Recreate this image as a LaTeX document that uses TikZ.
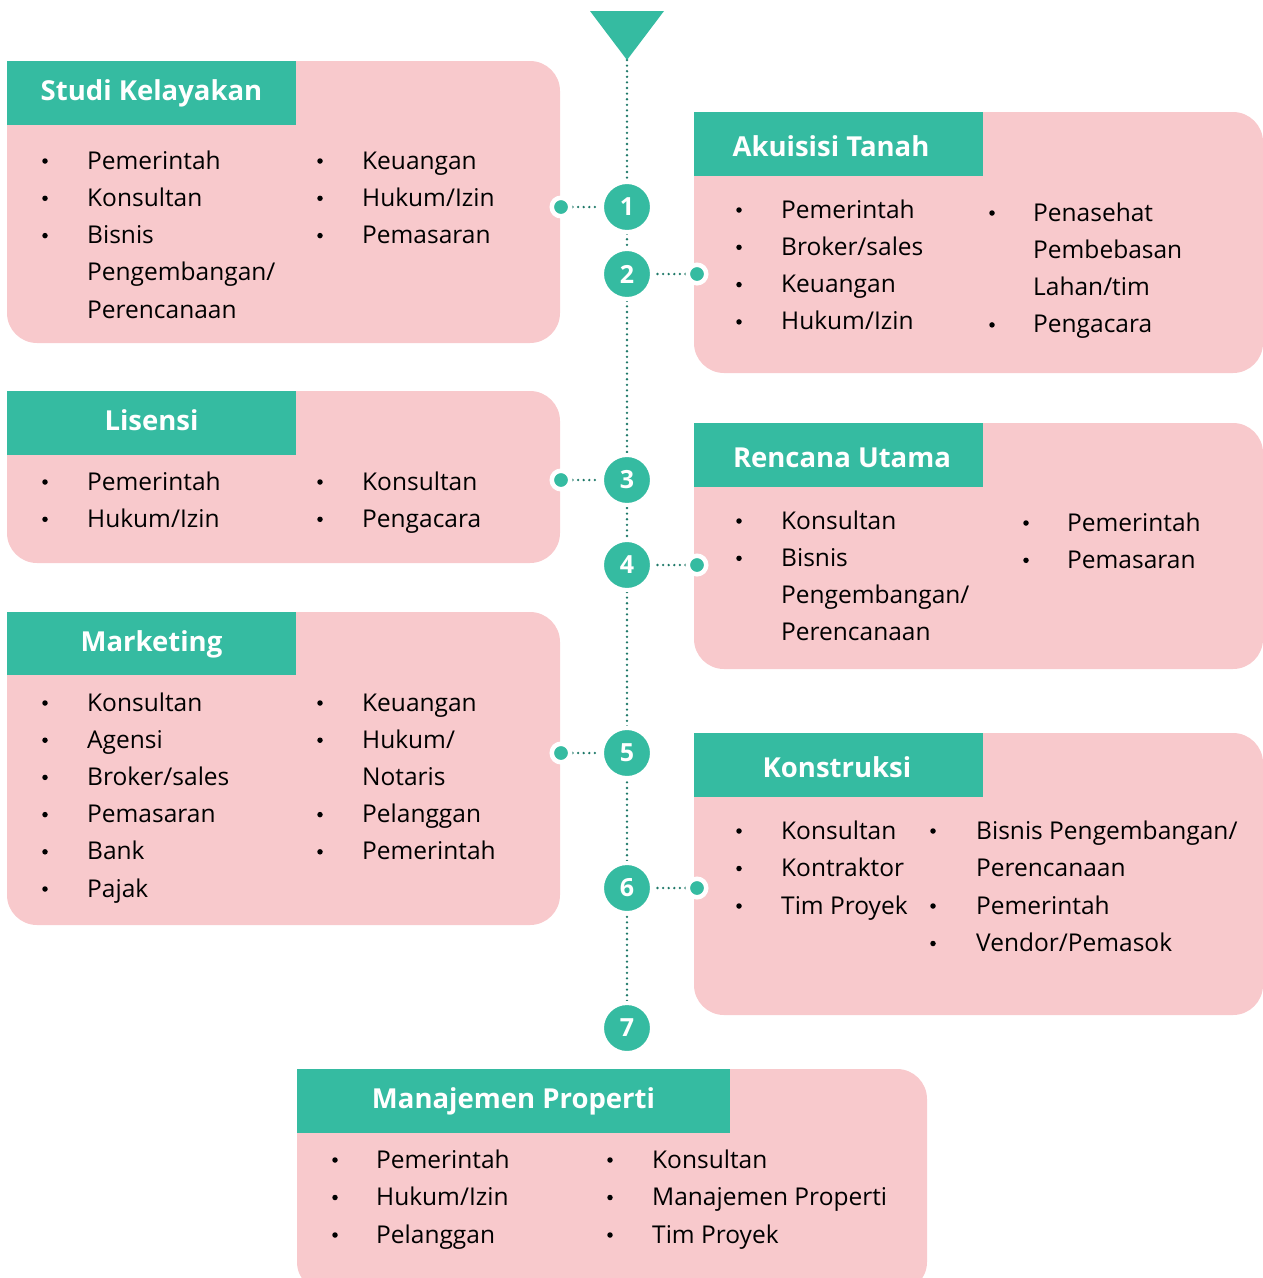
\documentclass[tikz,border=0pt]{standalone}
\usepackage{fontspec}
\setmainfont{Open Sans}
\usetikzlibrary{backgrounds}
\definecolor{tosca}{RGB}{53,187,161}
\definecolor{blush}{RGB}{248,201,204}
\definecolor{dotgreen}{RGB}{30,120,104}

\begin{document}
\begin{tikzpicture}[x=1pt,y=-1pt,
    box/.style={fill=blush, rounded corners=30pt},
    head/.style={fill=tosca},
    title/.style={anchor=base, text=white, inner sep=0pt, font=\fontsize{27.5}{33}\selectfont\bfseries},
    item/.style={anchor=base west, inner sep=0pt, font=\fontsize{24.5}{29}\selectfont},
    bul/.style={circle, fill=black, minimum size=5.5pt, inner sep=0pt},
    num/.style={circle, fill=tosca, draw=white, line width=4pt, minimum size=50pt, inner sep=0pt,
      text=white, font=\fontsize{25}{30}\selectfont\bfseries},
    knob/.style={circle, fill=tosca, draw=white, line width=4.5pt, minimum size=18.5pt, inner sep=0pt},
    dotline/.style={dotgreen, line width=2.6pt, line cap=round, dash pattern=on 0pt off 5.6pt}]
  \useasboundingbox (0,0) rectangle (1263,1278);

  % Studi Kelayakan
  \fill [box] (7,61) rectangle (560,343); % Draws a rectangle
  \fill [head] (7,61) rectangle (296,125);
  \node [title] (sk) at (151.5,100) {Studi Kelayakan};
  \foreach \t [count=\i from 0] in {Pemerintah, Konsultan, Bisnis, Pengembangan/, Perencanaan}
    \node [item] (sk-a\i) at (87,{169+37.3*\i}) {\t};
  \foreach \i in {0,1,2} \node [bul] (sk-p\i) at (45,{161+37.3*\i}) {};
  \foreach \t [count=\i from 0] in {Keuangan, Hukum/Izin, Pemasaran}
    \node [item] (sk-b\i) at (362,{169+37.3*\i}) {\t};
  \foreach \i in {0,1,2} \node [bul] (sk-q\i) at (320,{161+37.3*\i}) {};

  % Akuisisi Tanah
  \fill [box] (694,112) rectangle (1263,373); % Draws a rectangle
  \fill [head] (694,112) rectangle (983,176);
  \node [title] (at) at (831,156) {Akuisisi Tanah};
  \foreach \t [count=\i from 0] in {Pemerintah, Broker/sales, Keuangan, Hukum/Izin}
    \node [item] (at-a\i) at (781,{218+37.3*\i}) {\t};
  \foreach \i in {0,1,2,3} \node [bul] (at-p\i) at (739,{210+37.3*\i}) {};
  \foreach \t [count=\i from 0] in {Penasehat, Pembebasan, Lahan/tim, Pengacara}
    \node [item] (at-b\i) at (1033,{221+37.3*\i}) {\t};
  \foreach \i in {0,3} \node [bul] (at-q\i) at (992,{213+37.3*\i}) {};

  % Lisensi
  \fill [box] (7,391) rectangle (560,563); % Draws a rectangle
  \fill [head] (7,391) rectangle (296,455);
  \node [title] (li) at (151.5,430) {Lisensi};
  \foreach \t [count=\i from 0] in {Pemerintah, Hukum/Izin}
    \node [item] (li-a\i) at (87,{490+37.3*\i}) {\t};
  \foreach \i in {0,1} \node [bul] (li-p\i) at (45,{482+37.3*\i}) {};
  \foreach \t [count=\i from 0] in {Konsultan, Pengacara}
    \node [item] (li-b\i) at (362,{490+37.3*\i}) {\t};
  \foreach \i in {0,1} \node [bul] (li-q\i) at (320,{482+37.3*\i}) {};

  % Rencana Utama
  \fill [box] (694,423) rectangle (1263,669); % Draws a rectangle
  \fill [head] (694,423) rectangle (983,487);
  \node [title] (ru) at (842,467) {Rencana Utama};
  \foreach \t [count=\i from 0] in {Konsultan, Bisnis, Pengembangan/, Perencanaan}
    \node [item] (ru-a\i) at (781,{529+37.3*\i}) {\t};
  \foreach \i in {0,1} \node [bul] (ru-p\i) at (739,{521+37.3*\i}) {};
  \foreach \t [count=\i from 0] in {Pemerintah, Pemasaran}
    \node [item] (ru-b\i) at (1067,{531+37.3*\i}) {\t};
  \foreach \i in {0,1} \node [bul] (ru-q\i) at (1026,{523+37.3*\i}) {};

  % Marketing
  \fill [box] (7,612) rectangle (560,925); % Draws a rectangle
  \fill [head] (7,612) rectangle (296,675);
  \node [title] (mk) at (151.5,651) {Marketing};
  \foreach \t [count=\i from 0] in {Konsultan, Agensi, Broker/sales, Pemasaran, Bank, Pajak}
    \node [item] (mk-a\i) at (87,{711+37.2*\i}) {\t};
  \foreach \i in {0,...,5} \node [bul] (mk-p\i) at (45,{703+37.2*\i}) {};
  \foreach \t [count=\i from 0] in {Keuangan, Hukum/, Notaris, Pelanggan, Pemerintah}
    \node [item] (mk-b\i) at (362,{711+37.2*\i}) {\t};
  \foreach \i in {0,1,3,4} \node [bul] (mk-q\i) at (320,{703+37.2*\i}) {};

  % Konstruksi
  \fill [box] (694,733) rectangle (1263,1015); % Draws a rectangle
  \fill [head] (694,733) rectangle (983,797);
  \node [title] (ko) at (837,777) {Konstruksi};
  \foreach \t [count=\i from 0] in {Konsultan, Kontraktor, Tim Proyek}
    \node [item] (ko-a\i) at (781,{839+37.5*\i}) {\t};
  \foreach \i in {0,1,2} \node [bul] (ko-p\i) at (739,{831+37.5*\i}) {};
  \foreach \t [count=\i from 0] in {Bisnis Pengembangan/, Perencanaan, Pemerintah, Vendor/Pemasok}
    \node [item] (ko-b\i) at (976,{839+37.5*\i}) {\t};
  \foreach \i in {0,2,3} \node [bul] (ko-q\i) at (933,{831+37.5*\i}) {};

  % Manajemen Properti
  \fill [box] (297,1069) rectangle (927,1292); % Draws a rectangle
  \fill [head] (297,1069) rectangle (730,1133);
  \node [title] (mp) at (513.5,1108) {Manajemen Properti};
  \foreach \t [count=\i from 0] in {Pemerintah, Hukum/Izin, Pelanggan}
    \node [item] (mp-a\i) at (376,{1168+37.5*\i}) {\t};
  \foreach \i in {0,1,2} \node [bul] (mp-p\i) at (335,{1160+37.5*\i}) {};
  \foreach \t [count=\i from 0] in {Konsultan, Manajemen Properti, Tim Proyek}
    \node [item] (mp-b\i) at (652,{1168+37.5*\i}) {\t};
  \foreach \i in {0,1,2} \node [bul] (mp-q\i) at (610,{1160+37.5*\i}) {};

  % timeline
  \fill [tosca] (590,11) -- (664,11) -- (627,60) -- cycle;
  \coordinate (tip) at (627,60);
  \node [num] (c1) at (627,207) {1};
  \node [num] (c2) at (627,274) {2};
  \node [num] (c3) at (627,480) {3};
  \node [num] (c4) at (627,565) {4};
  \node [num] (c5) at (627,753) {5};
  \node [num] (c6) at (627,888) {6};
  \node [num] (c7) at (627,1028) {7};

  \node [knob] (k1) at (561,207) {};
  \node [knob] (k2) at (697,274) {};
  \node [knob] (k3) at (561,480) {};
  \node [knob] (k4) at (697,565) {};
  \node [knob] (k5) at (561,753) {};
  \node [knob] (k6) at (697,888) {};

  \begin{pgfonlayer}{background}
    \draw [dotline] (tip) -- (c7);
    \foreach \i in {1,...,6} \draw [dotline] (k\i) -- (c\i);
  \end{pgfonlayer}
\end{tikzpicture}
\end{document}
